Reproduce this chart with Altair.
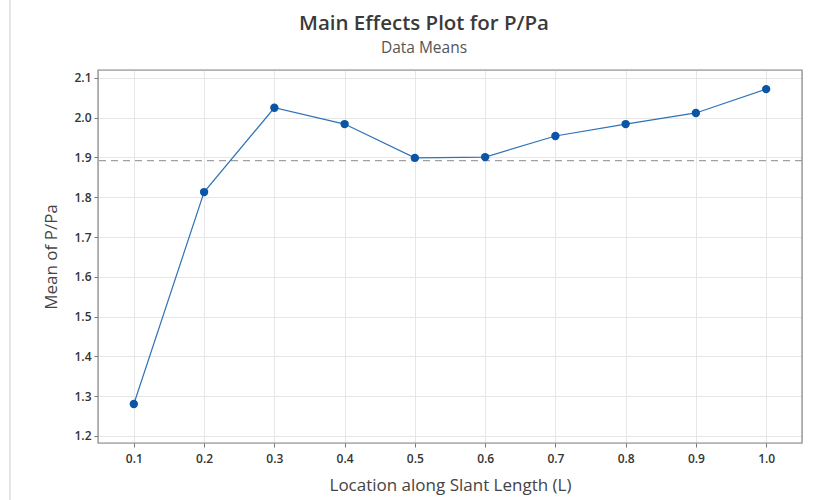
import altair as alt
import pandas as pd

locations = [0.1, 0.2, 0.3, 0.4, 0.5, 0.6, 0.7, 0.8, 0.9, 1.0]
means = [1.280, 1.813, 2.025, 1.984, 1.899, 1.901, 1.954, 1.984, 2.012, 2.072]
grand_mean = [1.892]
y_ticks = [1.2, 1.3, 1.4, 1.5, 1.6, 1.7, 1.8, 1.9, 2.0, 2.1]
title_text = ["Main Effects Plot for P/Pa"]
subtitle_text = ["Data Means"]

df = pd.DataFrame({"L": locations, "M": means})
ref = pd.DataFrame({"g": grand_mean})
tdf = pd.DataFrame({"t": title_text})
sdf = pd.DataFrame({"t": subtitle_text})

FONT = "Open Sans"

xscale = alt.Scale(domain=[0.049, 1.051], nice=False, zero=False)
yscale = alt.Scale(domain=[1.182, 2.12], nice=False, zero=False)

xax = alt.Axis(
    values=locations, format=".1f", title="Location along Slant Length (L)",
    labelFont=FONT, labelFontSize=12, labelFontWeight=600, labelColor="#333",
    labelPadding=6,
    titleFont=FONT, titleFontSize=17, titleFontWeight=500, titleColor="#444",
    titlePadding=13, tickColor="#777", tickSize=4, domain=False,
    gridColor="#e6e6e6", gridWidth=1,
)
yax = alt.Axis(
    values=y_ticks, format=".1f", title="Mean of P/Pa",
    labelFont=FONT, labelFontSize=12, labelFontWeight=600, labelColor="#333",
    labelPadding=3,
    titleFont=FONT, titleFontSize=17, titleFontWeight=500, titleColor="#444",
    titlePadding=13, tickColor="#777", tickSize=4, domain=False,
    gridColor="#e6e6e6", gridWidth=1,
)

line = alt.Chart(df).mark_line(color="#2f72b8", strokeWidth=1.2).encode(
    x=alt.X("L:Q", scale=xscale, axis=xax),
    y=alt.Y("M:Q", scale=yscale, axis=yax),
)
points = alt.Chart(df).mark_point(
    filled=True, shape="circle", size=70, color="#0a55a5", opacity=1
).encode(x=alt.X("L:Q", scale=xscale), y=alt.Y("M:Q", scale=yscale))

refline = alt.Chart(ref).mark_rule(
    color="#a0a0a0", strokeDash=[7, 5], strokeWidth=1.3
).encode(y=alt.Y("g:Q", scale=yscale))

frame = alt.Chart(ref).mark_rect(
    fill=None, stroke="#8a8a8a", strokeWidth=1.2
).encode(x=alt.value(0), x2=alt.value(704), y=alt.value(0), y2=alt.value(373))

border = alt.Chart(ref).mark_rule(color="#dddddd", strokeWidth=1.5).encode(
    x=alt.value(-88), y=alt.value(-70), y2=alt.value(430)
)

title = alt.Chart(tdf).mark_text(
    font=FONT, fontSize=20.5, fontWeight=600, color="#3a3a3a", align="center",
    baseline="middle"
).encode(text="t:N", x=alt.value(326), y=alt.value(-46))

subtitle = alt.Chart(sdf).mark_text(
    font=FONT, fontSize=15.5, color="#555", align="center", baseline="middle"
).encode(text="t:N", x=alt.value(326), y=alt.value(-22))

chart = alt.layer(refline, line, points, frame, border, title, subtitle).properties(
    width=704, height=373,
    autosize=alt.AutoSizeParams(type="none"),
    padding={"left": 98, "top": 70, "right": 24, "bottom": 57},
).configure_view(stroke=None).configure(background="white")

chart.save("out.html", embed_options={"renderer": "svg", "actions": False})
